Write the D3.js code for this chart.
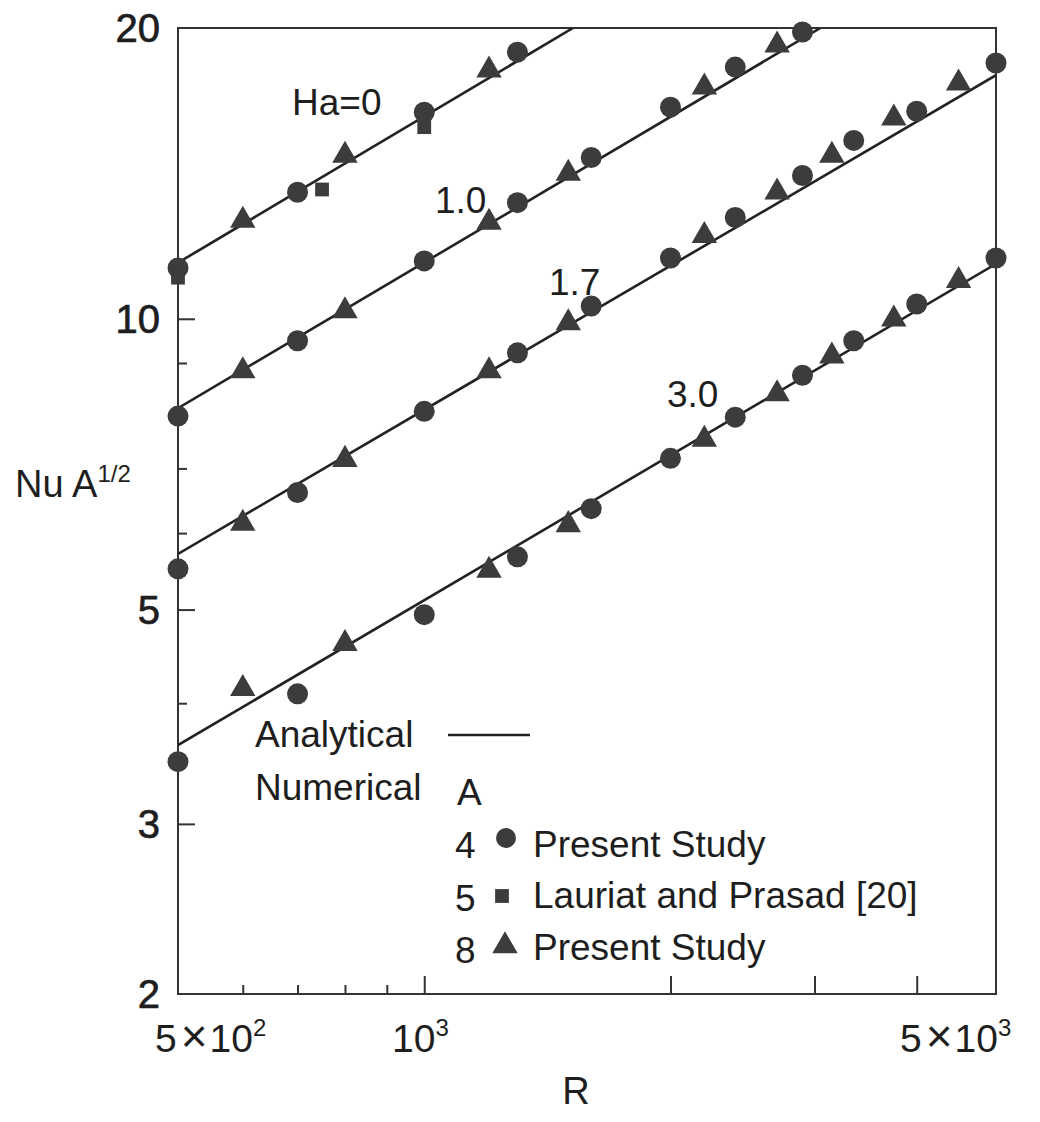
<!DOCTYPE html>
<html>
<head>
<meta charset="utf-8">
<script src="https://cdn.jsdelivr.net/npm/d3@7"></script>
<style>
  body { margin: 0; background: #fff; }
  text { font-family: "Liberation Sans", Arial, Helvetica, sans-serif; fill: #1e1e1e; }
</style>
</head>
<body>
<div id="chart"></div>
<script>
/*
Nu A^(1/2) vs R, log-log, four Hartmann numbers
 */

// R positions of the numerical points
var rCircle = [500, 700, 1000, 1300, 1600, 2000, 2400, 2900, 3350, 4000, 5000];
var rTriangle = [600, 800, 1200, 1500, 2200, 2700, 3150, 3750, 4500];
var rSquare = [500, 750, 1000];

// A=4 present study (circles), one array per Ha
var ha0Circle = [11.29, 13.52, 16.36, 18.88];
var ha10Circle = [7.93, 9.49, 11.48, 13.19, 14.69, 16.56, 18.22, 19.81];
var ha17Circle = [5.51, 6.61, 8.02, 9.22, 10.31, 11.56, 12.73, 14.07, 15.30, 16.40, 18.40];
var ha30Circle = [3.48, 4.09, 4.94, 5.67, 6.36, 7.17, 7.91, 8.74, 9.49, 10.36, 11.56];

// A=8 present study (triangles)
var ha0Triangle = [12.64, 14.76, 18.09];
var ha10Triangle = [8.83, 10.19, 12.58, 14.14, 17.37, 19.20];
var ha17Triangle = [6.14, 7.15, 8.83, 9.90, 12.19, 13.52, 14.76, 16.13, 17.54];
var ha30Triangle = [4.14, 4.61, 5.49, 6.12, 7.50, 8.36, 9.15, 9.99, 10.95];

// A=5 Lauriat and Prasad [20] (squares), Ha=0
var ha0Square = [11.03, 13.61, 15.79];

// analytical lines: start and end points
var lineLabels = ["Ha=0", "1.0", "1.7", "3.0"];
var lineR = [[500, 1520], [500, 3050], [500, 5000], [500, 5000]];
var lineNu = [[11.43, 20], [8.08, 20], [5.71, 17.87], [3.62, 11.40]];

// axis ticks
var yLabelTicks = [2, 3, 5, 10, 20];
var yMajorTicks = [3, 5, 10];
var yMinorTicks = [4, 6, 7, 8, 9];
var xMajorTicks = [1000, 2000, 3000, 4000];
var xMinorTicks = [600, 700, 800, 900];

var width = 1040, height = 1122;
var plotLeft = 178, plotRight = 996, plotTop = 28, plotBottom = 994;
var ink = "#3c3c3c";

var svg = d3.select("#chart")
    .append("svg")
    .attr("width", width)
    .attr("height", height);

svg.append("rect")
    .attr("width", width)
    .attr("height", height)
    .style("fill", "white");

var x = d3.scaleLog().domain([500, 5000]).range([plotLeft, plotRight]);
var y = d3.scaleLog().domain([2, 20]).range([plotBottom, plotTop]);

svg.append("clipPath")
    .attr("id", "plotclip")
    .append("rect")
    .attr("x", plotLeft)
    .attr("y", plotTop)
    .attr("width", plotRight - plotLeft)
    .attr("height", plotBottom - plotTop);

//axes: ticks drawn inward from left and bottom
var yAxisMajor = d3.axisRight(y).tickValues(yMajorTicks).tickSize(17).tickFormat("");
var yAxisMinor = d3.axisRight(y).tickValues(yMinorTicks).tickSize(9).tickFormat("");
var xAxisMajor = d3.axisTop(x).tickValues(xMajorTicks).tickSize(18).tickFormat("");
var xAxisMinor = d3.axisTop(x).tickValues(xMinorTicks).tickSize(9).tickFormat("");

[yAxisMajor, yAxisMinor].forEach(function(ax) {
    svg.append("g")
        .attr("transform", "translate(" + plotLeft + ",0)")
        .call(ax)
        .call(function(g) { g.select(".domain").remove(); })
        .selectAll("line").style("stroke", "#333").style("stroke-width", 2);
});
[xAxisMajor, xAxisMinor].forEach(function(ax) {
    svg.append("g")
        .attr("transform", "translate(0," + plotBottom + ")")
        .call(ax)
        .call(function(g) { g.select(".domain").remove(); })
        .selectAll("line").style("stroke", "#333").style("stroke-width", 2);
});

svg.append("rect")
    .attr("x", plotLeft)
    .attr("y", plotTop)
    .attr("width", plotRight - plotLeft)
    .attr("height", plotBottom - plotTop)
    .style("fill", "none")
    .style("stroke", "#333")
    .style("stroke-width", 2);

//y tick labels
svg.selectAll(".ylab")
    .data(yLabelTicks)
    .enter()
    .append("text")
    .attr("class", "ylab")
    .attr("x", 160)
    .attr("y", function(d) { return y(d) + 14; })
    .attr("text-anchor", "end")
    .style("font-size", "40px")
    .style("stroke", "#1e1e1e")
    .style("stroke-width", 0.7)
    .text(function(d) { return d; });

//x tick labels with superscripts
function powerLabel(px, mant, exp) {
    var t = svg.append("text")
        .attr("x", px)
        .attr("y", 1052)
        .style("font-size", "39px");
    if (mant) {
        t.append("tspan").text(mant);
        t.append("tspan").style("font-size", "46px").attr("dx", 4).text("\u00d7");
        t.append("tspan").attr("dx", 2).text("10");
    } else {
        t.append("tspan").text("10");
    }
    t.append("tspan").attr("dy", -16).style("font-size", "24px").text(exp);
}
powerLabel(155, "5", "2");
powerLabel(392, "", "3");
powerLabel(900, "5", "3");

svg.append("text")
    .attr("x", 576)
    .attr("y", 1104)
    .attr("text-anchor", "middle")
    .style("font-size", "38px")
    .text("R");

var yl = svg.append("text")
    .attr("x", 15)
    .attr("y", 497)
    .style("font-size", "38px");
yl.append("tspan").text("Nu A");
yl.append("tspan").attr("dy", -15).style("font-size", "24px").text("1/2");

//analytical lines
var line = d3.line()
    .x(function(d) { return x(d[0]); })
    .y(function(d) { return y(d[1]); });

lineR.forEach(function(rs, i) {
    svg.append("path")
        .datum([[rs[0], lineNu[i][0]], [rs[1], lineNu[i][1]]])
        .attr("clip-path", "url(#plotclip)")
        .attr("d", line)
        .style("fill", "none")
        .style("stroke", "#222")
        .style("stroke-width", 2.6);
});

//line labels
var labelPos = [[292, 115], [435, 213], [549, 295], [667, 407]];
svg.selectAll(".halab")
    .data(lineLabels)
    .enter()
    .append("text")
    .attr("class", "halab")
    .attr("x", function(d, i) { return labelPos[i][0]; })
    .attr("y", function(d, i) { return labelPos[i][1]; })
    .style("font-size", "37px")
    .text(function(d) { return d; });

//markers
var circleSeries = [ha0Circle, ha10Circle, ha17Circle, ha30Circle];
var triangleSeries = [ha0Triangle, ha10Triangle, ha17Triangle, ha30Triangle];
var triSym = d3.symbol().type(d3.symbolTriangle).size(280);
var sqSym = d3.symbol().type(d3.symbolSquare).size(190);

svg.selectAll(".sq")
    .data(ha0Square)
    .enter()
    .append("path")
    .attr("class", "sq")
    .attr("d", sqSym)
    .attr("transform", function(d, i) { return "translate(" + x(rSquare[i]) + "," + y(d) + ")"; })
    .style("fill", ink);

circleSeries.forEach(function(vals) {
    svg.append("g")
        .selectAll("circle")
        .data(vals)
        .enter()
        .append("circle")
        .attr("cx", function(d, i) { return x(rCircle[i]); })
        .attr("cy", function(d) { return y(d); })
        .attr("r", 10.5)
        .style("fill", ink);
});

triangleSeries.forEach(function(vals) {
    svg.append("g")
        .selectAll("path")
        .data(vals)
        .enter()
        .append("path")
        .attr("d", triSym)
        .attr("transform", function(d, i) { return "translate(" + x(rTriangle[i]) + "," + y(d) + ")"; })
        .style("fill", ink);
});

//legend
function legendText(px, py, s) {
    svg.append("text")
        .attr("x", px)
        .attr("y", py)
        .style("font-size", "37px")
        .text(s);
}
legendText(255, 747, "Analytical");
svg.append("line")
    .attr("x1", 448).attr("x2", 530)
    .attr("y1", 735).attr("y2", 735)
    .style("stroke", "#222")
    .style("stroke-width", 2.6);
legendText(255, 800, "Numerical");
legendText(457, 805, "A");

legendText(455, 858, "4");
svg.append("circle")
    .attr("cx", 506).attr("cy", 838).attr("r", 10)
    .style("fill", ink);
legendText(533, 857, "Present Study");

legendText(455, 911, "5");
svg.append("path")
    .attr("d", sqSym)
    .attr("transform", "translate(502,896)")
    .style("fill", ink);
legendText(533, 908, "Lauriat and Prasad [20]");

legendText(455, 963, "8");
svg.append("path")
    .attr("d", triSym)
    .attr("transform", "translate(505,946)")
    .style("fill", ink);
legendText(533, 960, "Present Study");
</script>
</body>
</html>
